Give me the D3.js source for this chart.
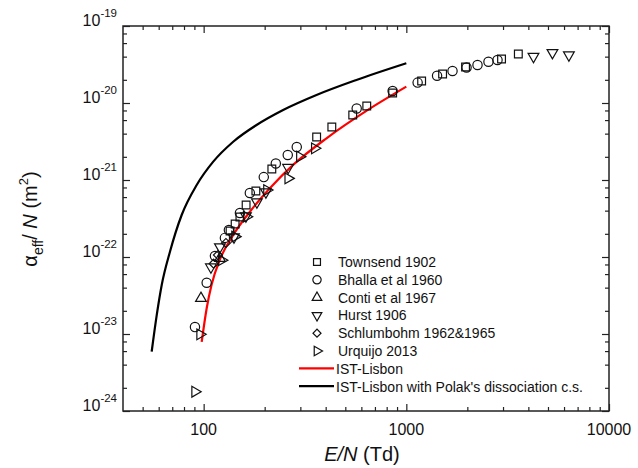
<!DOCTYPE html>
<html>
<head>
<meta charset="utf-8">
<script src="https://cdn.jsdelivr.net/npm/d3@7"></script>
<style>
body { margin: 0; background: #fff; }
text { font-family: "Liberation Sans", Arial, sans-serif; fill: #111; }
</style>
</head>
<body>
<script>
// E/N (Td) and alpha_eff/N (m^2)
var townsendE = [135, 143, 151, 162, 181, 217, 361, 429, 544, 638, 856, 1190, 1510, 1960, 2950, 3570];
var townsendA = [2.18e-22, 2.68e-22, 3.31e-22, 4.73e-22, 7.2e-22, 1.39e-21, 3.62e-21, 4.88e-21, 6.98e-21, 9.14e-21, 1.35e-20, 1.93e-20, 2.38e-20, 2.94e-20, 3.73e-20, 4.33e-20];

var bhallaE = [90.6, 103.5, 113.7, 127.3, 133.2, 151, 169, 198, 227, 260, 288, 569, 856, 1137, 1418, 1690, 1982, 2245, 2543, 2818];
var bhallaA = [1.23e-23, 4.64e-23, 1.03e-22, 1.77e-22, 2.24e-22, 3.73e-22, 6.78e-22, 1.09e-21, 1.64e-21, 2.11e-21, 2.68e-21, 8.48e-21, 1.43e-20, 1.84e-20, 2.26e-20, 2.6e-20, 2.89e-20, 3.12e-20, 3.44e-20, 3.62e-20];

var contiE = [97, 120.3];
var contiA = [2.91e-23, 9.6e-23];

var hurstE = [108.6, 120.3, 141.1, 161.6, 183.1, 202.8, 261, 4240, 5260, 6340];
var hurstA = [7.4e-23, 1.35e-22, 1.82e-22, 3.41e-22, 5.18e-22, 6.98e-22, 1.45e-21, 4.02e-20, 4.5e-20, 4.2e-20];

var schlumE = [112, 117.6, 128.8];
var schlumA = [8.2e-23, 1.06e-22, 1.52e-22];

var urquijoE = [90.6, 95.9, 122.7, 142.6, 162.8, 205, 261, 298, 353];
var urquijoA = [1.78e-24, 9.9e-24, 9.1e-23, 1.84e-22, 3.34e-22, 7.4e-22, 1.05e-21, 2.01e-21, 2.58e-21];

var istE = [97.8, 103.5, 109.5, 120.3, 139.9, 169.1, 212.1, 276.3, 403.6, 635, 1000];
var istA = [7.9e-24, 2.16e-23, 4.4e-23, 9.3e-23, 1.93e-22, 3.87e-22, 7.8e-22, 1.57e-21, 3.48e-21, 7.9e-21, 1.63e-20];

var polakE = [55.4, 58.7, 62.1, 68.2, 77.9, 92.4, 111.5, 139.9, 182.4, 246.7, 360.4, 567, 1000];
var polakA = [5.89e-24, 1.77e-23, 4.33e-23, 1.17e-22, 3.51e-22, 8.61e-22, 1.73e-21, 3.14e-21, 5.18e-21, 8.11e-21, 1.27e-20, 1.99e-20, 3.28e-20];

var xTickValues = [100, 1000, 10000];
var xTickLabels = ["100", "1000", "10000"];
var yTickExps = [-24, -23, -22, -21, -20, -19];

var legendLabels = ["Townsend 1902", "Bhalla et al 1960", "Conti et al 1967", "Hurst 1906",
    "Schlumbohm 1962&1965", "Urquijo 2013", "IST-Lisbon", "IST-Lisbon with Polak's dissociation c.s."];

// plot box
var L = 123, R = 609, T = 26, B = 411;

var svg = d3.select("body")
    .append("svg")
    .attr("width", 638)
    .attr("height", 468);

var x = d3.scaleLog().domain([40, 10000]).range([L, R]);
var y = d3.scaleLog().domain([1e-24, 1e-19]).range([B, T]);

// minor ticks
var xMinor = [];
[10, 100, 1000].forEach(d => { for (let k = 2; k <= 9; k++) if (d * k > 40) xMinor.push(d * k); });
var yMinor = [];
yTickExps.slice(0, -1).forEach(e => { [2, 4, 6, 8].forEach(k => yMinor.push(k * Math.pow(10, e))); });
var yMajor = yTickExps.map(e => Math.pow(10, e));

function axisStyle(g) {
    g.select(".domain").remove();
    g.selectAll("line").attr("stroke", "#222").attr("stroke-width", 1.2);
}

svg.append("g").attr("transform", `translate(0,${B})`)
    .call(d3.axisBottom(x).tickValues(xMinor).tickSize(-4).tickFormat("")).call(axisStyle);
svg.append("g").attr("transform", `translate(0,${B})`)
    .call(d3.axisBottom(x).tickValues(xTickValues).tickSize(-7).tickFormat("")).call(axisStyle);
svg.append("g").attr("transform", `translate(0,${T})`)
    .call(d3.axisTop(x).tickValues(xMinor).tickSize(-4).tickFormat("")).call(axisStyle);
svg.append("g").attr("transform", `translate(0,${T})`)
    .call(d3.axisTop(x).tickValues(xTickValues).tickSize(-7).tickFormat("")).call(axisStyle);

svg.append("g").attr("transform", `translate(${L},0)`)
    .call(d3.axisLeft(y).tickValues(yMinor).tickSize(-4).tickFormat("")).call(axisStyle);
svg.append("g").attr("transform", `translate(${L},0)`)
    .call(d3.axisLeft(y).tickValues(yMajor).tickSize(-7).tickFormat("")).call(axisStyle);
svg.append("g").attr("transform", `translate(${R},0)`)
    .call(d3.axisRight(y).tickValues(yMinor).tickSize(-4).tickFormat("")).call(axisStyle);
svg.append("g").attr("transform", `translate(${R},0)`)
    .call(d3.axisRight(y).tickValues(yMajor).tickSize(-7).tickFormat("")).call(axisStyle);

svg.append("rect")
    .attr("x", L).attr("y", T)
    .attr("width", R - L).attr("height", B - T)
    .attr("fill", "none").attr("stroke", "#222").attr("stroke-width", 1.5);

// tick labels
svg.selectAll(".xlab")
    .data(xTickValues)
    .enter()
    .append("text")
    .attr("x", d => x(d))
    .attr("y", 435)
    .attr("text-anchor", "middle")
    .style("font-size", "16px")
    .text((d, i) => xTickLabels[i]);

var ylab = svg.selectAll(".ylab")
    .data(yTickExps)
    .enter()
    .append("text")
    .attr("x", 117)
    .attr("y", d => y(Math.pow(10, d)))
    .attr("text-anchor", "end")
    .style("font-size", "16px");
ylab.append("tspan").text("10");
ylab.append("tspan").attr("dy", -9).style("font-size", "11.5px").text(d => d);

// axis titles
var xt = svg.append("text")
    .attr("x", 362).attr("y", 461)
    .attr("text-anchor", "middle")
    .style("font-size", "20px");
xt.append("tspan").style("font-style", "italic").text("E/N");
xt.append("tspan").text(" (Td)");

var yt = svg.append("text")
    .attr("transform", "translate(37,219) rotate(-90)")
    .attr("text-anchor", "middle")
    .style("font-size", "20px");
yt.append("tspan").text("\u03b1");
yt.append("tspan").attr("dy", 6).style("font-size", "14px").text("eff");
yt.append("tspan").attr("dy", -6).text("/ ");
yt.append("tspan").style("font-style", "italic").text("N");
yt.append("tspan").text(" (m");
yt.append("tspan").attr("dy", -9).style("font-size", "13px").text("2");
yt.append("tspan").attr("dy", 9).text(")");

// curves
var line = d3.line()
    .x(d => x(d[0]))
    .y(d => y(d[1]))
    .curve(d3.curveMonotoneX);

svg.append("path")
    .attr("d", line(polakE.map((e, i) => [e, polakA[i]])))
    .attr("fill", "none").attr("stroke", "#000").attr("stroke-width", 2.2);
svg.append("path")
    .attr("d", line(istE.map((e, i) => [e, istA[i]])))
    .attr("fill", "none").attr("stroke", "#f00").attr("stroke-width", 2.2);

// markers
var series = [
    { E: townsendE, A: townsendA, type: d3.symbolSquare, size: 60, rot: 0 },
    { E: bhallaE, A: bhallaA, type: d3.symbolCircle, size: 68, rot: 0 },
    { E: contiE, A: contiA, type: d3.symbolTriangle, size: 50, rot: 0 },
    { E: hurstE, A: hurstA, type: d3.symbolTriangle, size: 50, rot: 180 },
    { E: schlumE, A: schlumA, type: d3.symbolSquare, size: 40, rot: 45 },
    { E: urquijoE, A: urquijoA, type: d3.symbolTriangle, size: 50, rot: 90 }
];

series.forEach(s => {
    svg.append("g")
        .selectAll("path")
        .data(s.E.map((e, i) => [e, s.A[i]]))
        .enter()
        .append("path")
        .attr("d", d3.symbol().type(s.type).size(s.size))
        .attr("transform", d => `translate(${x(d[0])},${y(d[1])}) rotate(${s.rot})`)
        .attr("fill", "none")
        .attr("stroke", "#111")
        .attr("stroke-width", 1.2);
});

// legend
var lg = svg.append("g");
var rowY = i => 262 + i * 17.8;
series.forEach((s, i) => {
    lg.append("path")
        .attr("d", d3.symbol().type(s.type).size(s.size * 0.8))
        .attr("transform", `translate(317,${rowY(i)}) rotate(${s.rot})`)
        .attr("fill", "none").attr("stroke", "#111").attr("stroke-width", 1.2);
});
["#f00", "#000"].forEach((c, j) => {
    lg.append("line")
        .attr("x1", 299).attr("x2", 334)
        .attr("y1", rowY(6 + j) - 0.5).attr("y2", rowY(6 + j) - 0.5)
        .attr("stroke", c).attr("stroke-width", 2.2);
});
lg.selectAll("text")
    .data(legendLabels)
    .enter()
    .append("text")
    .attr("x", (d, i) => i < 6 ? 338 : 336)
    .attr("y", (d, i) => rowY(i) + 5)
    .style("font-size", "14px")
    .text(d => d);
</script>
</body>
</html>
